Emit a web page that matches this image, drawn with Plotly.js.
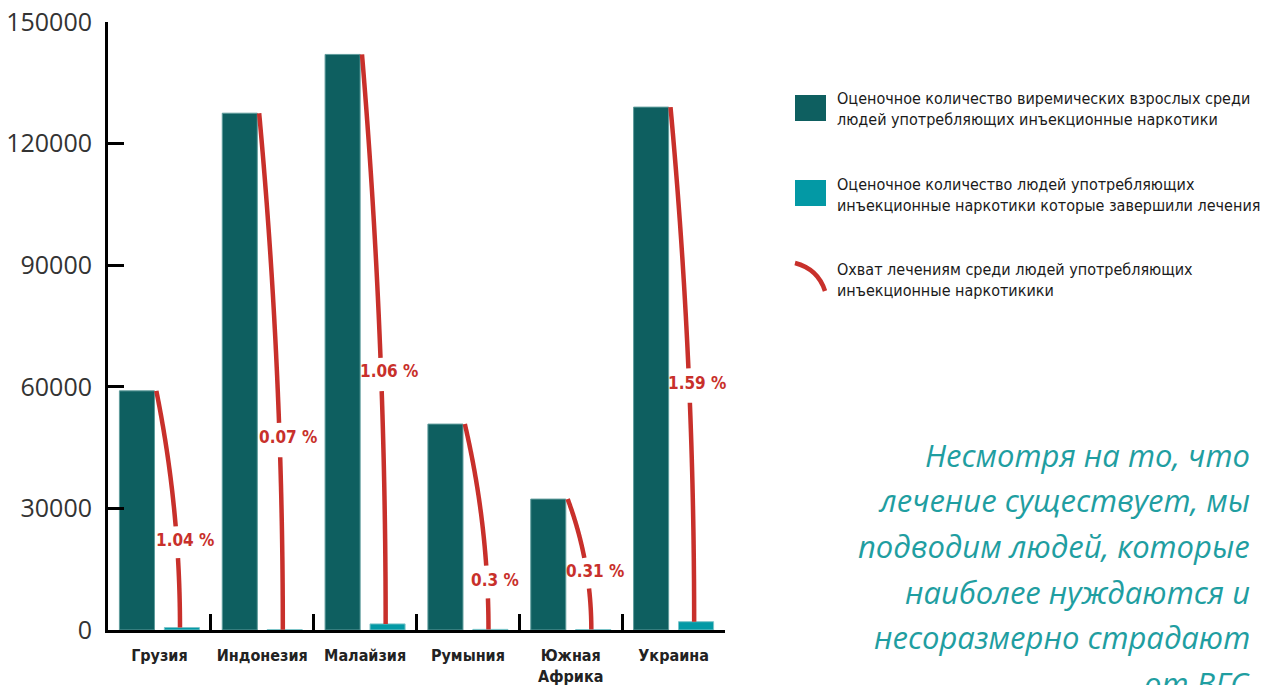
<!DOCTYPE html>
<html><head><meta charset="utf-8">
<script src="https://cdn.plot.ly/plotly-3.0.1.min.js"></script>
<style>html,body{margin:0;padding:0;background:#fff}#chart{width:1270px;height:685px}</style>
</head><body><div id="chart"></div>
<script>
// ---- data ----
const countries = ['Грузия', 'Индонезия', 'Малайзия', 'Румыния', 'Южная<br>Африка', 'Украина'];
const viremic = [59000, 127500, 142000, 50800, 32300, 129000];
const treated = [610, 90, 1500, 150, 100, 2050];
const coverage = [1.04, 0.07, 1.06, 0.3, 0.31, 1.59];
const yTickVals = [0, 30000, 60000, 90000, 120000, 150000];
const yTickText = ['0', '30000', '60000', '90000', '120000', '150000'];
const legendTexts = [
  'Оценочное количество виремических взрослых среди<br>людей употребляющих инъекционные наркотики',
  'Оценочное количество людей употребляющих<br>инъекционные наркотики которые завершили лечения',
  'Охват лечениям среди людей употребляющих<br>инъекционные наркотикики'
];
const quoteLines = [
  'Несмотря на то, что',
  'лечение существует, мы',
  'подводим людей, которые',
  'наиболее нуждаются и',
  'несоразмерно страдают',
  'от ВГС'
];

// ---- layout constants ----
const W = 1270, H = 685;
const M = {l: 108, r: 545, t: 22, b: 55};
const plotW = W - M.l - M.r, plotH = H - M.t - M.b;
const yMax = 150000;
const kx = plotW / 6, ky = plotH / yMax;
const labelFrac = [0.64, 0.63, 0.56, 0.77, 0.57, 0.54];
const DARK = '#0e5f60', TEAL = '#0399a5', RED = '#c8302b';
const COND = '"DejaVu Sans Condensed", "Liberation Sans Narrow", Roboto, sans-serif';
const px2x = p => (p - M.l) / plotW;
const px2y = p => (H - M.b - p) / plotH;

const traces = [
  {type: 'bar', x: countries, y: viremic, name: 'viremic', marker: {color: DARK, line: {color: '#5f9c9c', width: 1}}, showlegend: false, hoverinfo: 'y'},
  {type: 'bar', x: countries, y: treated, name: 'treated', marker: {color: TEAL, line: {color: '#7cc4c9', width: 1}}, showlegend: false, hoverinfo: 'y'}
];

const annotations = [];
countries.forEach((c, i) => {
  const xs = (i - 0.03) * kx, ys = viremic[i] * ky;
  const xe = (i + 0.2) * kx, ye = treated[i] * ky;
  const dx = xe - xs, dy = ys - ye;
  const a = (dx * dx + dy * dy) / (2 * dx);
  const cx = xe - a;
  const tMax = Math.asin(dy / a);
  const yLab = ys - labelFrac[i] * dy;
  const xs_ = [], ys_ = [];
  const N = 120;
  let gapDone = false;
  for (let k = 0; k <= N; k++) {
    const t = tMax * (1 - k / N);
    const Y = ye + a * Math.sin(t), X = cx + a * Math.cos(t);
    if (Math.abs(Y - yLab) < 15) {
      if (!gapDone) { xs_.push(null); ys_.push(null); gapDone = true; }
      continue;
    }
    xs_.push(X / kx); ys_.push(Y / ky);
  }
  traces.push({type: 'scatter', mode: 'lines', x: xs_, y: ys_, xaxis: 'x2', yaxis: 'y',
    line: {color: RED, width: 4.5, simplify: false}, showlegend: false, hoverinfo: 'skip', connectgaps: false});
  const tl = Math.asin((yLab - ye) / a);
  const xl = cx + a * Math.cos(tl) + 8;
  annotations.push({xref: 'x2', yref: 'y', x: xl / kx, y: (yLab + 2) / ky, text: coverage[i] + ' %',
    showarrow: false, xanchor: 'center', yanchor: 'middle',
    font: {family: COND, size: 17, color: RED, weight: 'bold'}});
});

// custom legend
const shapes = [];
const legRows = [{top: 95, bot: 121, mid: 109}, {top: 180, bot: 206, mid: 195}, {top: 262, bot: 292, mid: 280}];
shapes.push({type: 'rect', xref: 'paper', yref: 'paper', x0: px2x(795), x1: px2x(826), y0: px2y(legRows[0].bot), y1: px2y(legRows[0].top), fillcolor: DARK, line: {width: 0}});
shapes.push({type: 'rect', xref: 'paper', yref: 'paper', x0: px2x(795), x1: px2x(826), y0: px2y(legRows[1].bot), y1: px2y(legRows[1].top), fillcolor: TEAL, line: {width: 0}});
shapes.push({type: 'path', xref: 'paper', yref: 'paper',
  path: `M ${px2x(795)},${px2y(263)} Q ${px2x(818)},${px2y(269)} ${px2x(825)},${px2y(291)}`,
  line: {color: RED, width: 4.5}});
legendTexts.forEach((t, j) => {
  annotations.push({xref: 'paper', yref: 'paper', x: px2x(835), y: px2y(legRows[j].mid), text: t,
    showarrow: false, xanchor: 'left', yanchor: 'middle', align: 'left',
    font: {family: COND, size: 16, color: '#1a1a1a'}});
});
quoteLines.forEach((t, j) => {
  annotations.push({xref: 'paper', yref: 'paper', x: px2x(1252), y: px2y(455 + j * 45.5), text: t,
    showarrow: false, xanchor: 'right', yanchor: 'middle', align: 'right',
    font: {family: '"Open Sans", sans-serif', size: 31, color: '#1f9ea1', style: 'italic'}});
});

const layout = {
  width: W, height: H,
  margin: M,
  paper_bgcolor: '#fff', plot_bgcolor: '#fff',
  barmode: 'group', bargap: 0.126, bargroupgap: 0.22,
  showlegend: false,
  xaxis: {type: 'category', range: [-0.5, 5.5], showline: true, linecolor: '#000', linewidth: 3,
    ticks: 'inside', tickson: 'boundaries', ticklen: 16, tickwidth: 3, tickcolor: '#000',
    showgrid: false, zeroline: false, fixedrange: true, tickangle: 0, ticklabelstandoff: 9,
    tickfont: {family: COND, size: 16, color: '#222', weight: 'bold'}},
  xaxis2: {overlaying: 'x', range: [-0.5, 5.5], visible: false, anchor: 'y'},
  yaxis: {range: [0, yMax], tickvals: yTickVals, ticktext: yTickText, showline: true, linecolor: '#000', linewidth: 3,
    ticks: 'inside', ticklen: 16, tickwidth: 3, tickcolor: '#000', showgrid: false, zeroline: false,
    ticklabelstandoff: 8,
    tickfont: {family: '"Open Sans", sans-serif', size: 25, color: '#333'}},
  shapes: shapes,
  annotations: annotations
};
Plotly.newPlot('chart', traces, layout, {displayModeBar: false, staticPlot: true});
</script>
</body></html>
